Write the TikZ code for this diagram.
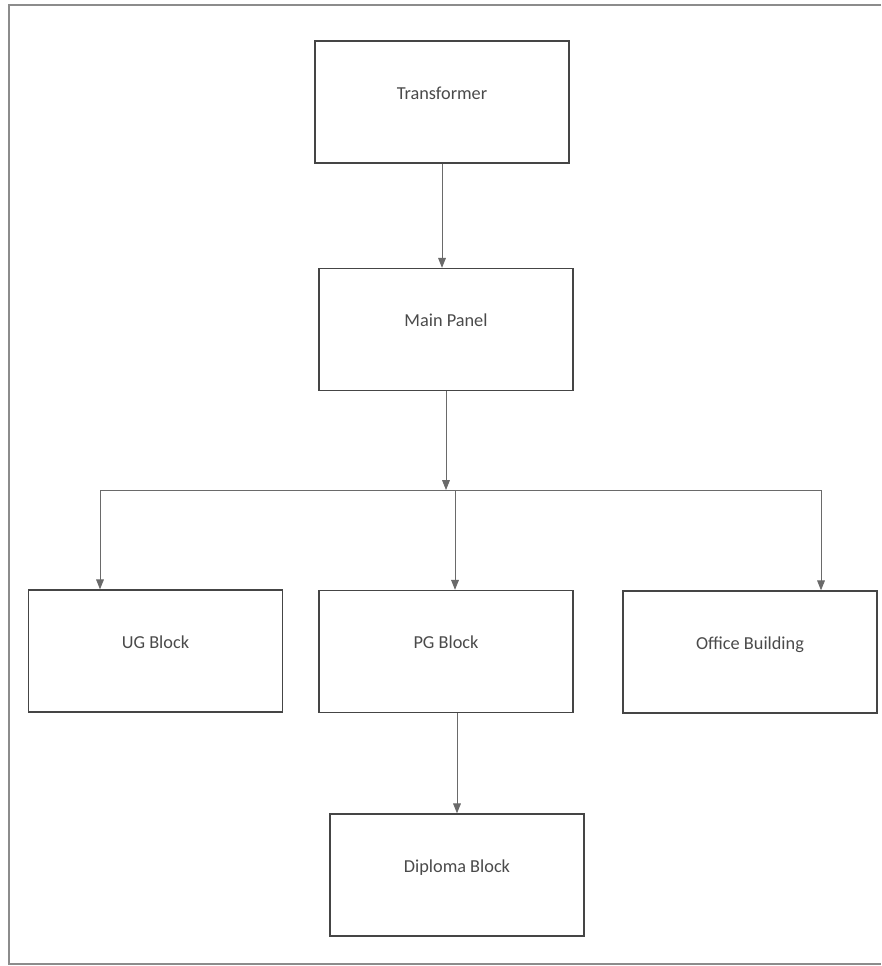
\documentclass[tikz,border=0pt]{standalone}
\usepackage{fontspec}
\setmainfont{Carlito}
\usepackage{xcolor}
\usepackage{tikz}
\usetikzlibrary{calc, arrows.meta, positioning}

\definecolor{boxline}{HTML}{454545}
\definecolor{arrline}{HTML}{6A6A6A}
\definecolor{frameline}{HTML}{8C8C8C}
\definecolor{labeltext}{HTML}{4A4A4A}

\tikzset{
  block/.style={draw=boxline, line width=1pt, minimum width=6.35cm, minimum height=3.05cm,
    inner sep=0pt, text=labeltext, font=\fontsize{13}{15}\selectfont,
    text height=6pt, text depth=10pt},
  arr/.style={draw=arrline, line width=0.6pt, -{Triangle[length=7pt, width=5.5pt]}},
  feed/.style={draw=arrline, line width=0.6pt}
}

\begin{document}
\begin{tikzpicture}[x=0.025cm, y=-0.025cm]
    \useasboundingbox (0,0) rectangle (881,966);

    % 1. Khung ngoai (top, left, bottom)
    \draw[frameline, line width=0.9pt] (881,5) -- (9,5) -- (9,964) -- (881,964);

    % 2. Cac khoi
    \node[block] (trans) at (442,102) {Transformer};
    \node[block] (main) at (446,329.5) {Main Panel};
    \node[block] (ug) at (155.5,651) {UG Block};
    \node[block] (pg) at (446,651.5) {PG Block};
    \node[block] (office) at (750,652) {Office Building};
    \node[block] (diploma) at (457,875) {Diploma Block};

    % 3. Transformer -> Main Panel
    \draw[arr] (trans.south) -- (trans.south |- main.north);

    % 4. Main Panel -> thanh phan phoi ngang
    \coordinate (split) at (446,490);
    \coordinate (busL) at (100,490);
    \coordinate (busR) at (821,490);
    \coordinate (busPG) at (455,490);
    \draw[arr] (main.south) -- (split);
    \draw[feed] (busL) -- (busR);

    % 5. Ba nhanh xuong cac khoi
    \draw[arr] (busL) -- (busL |- ug.north);
    \draw[arr] (busPG) -- (busPG |- pg.north);
    \draw[arr] (busR) -- (busR |- office.north);

    % 6. PG Block -> Diploma Block
    \draw[arr] (diploma.north |- pg.south) -- (diploma.north);

\end{tikzpicture}
\end{document}
